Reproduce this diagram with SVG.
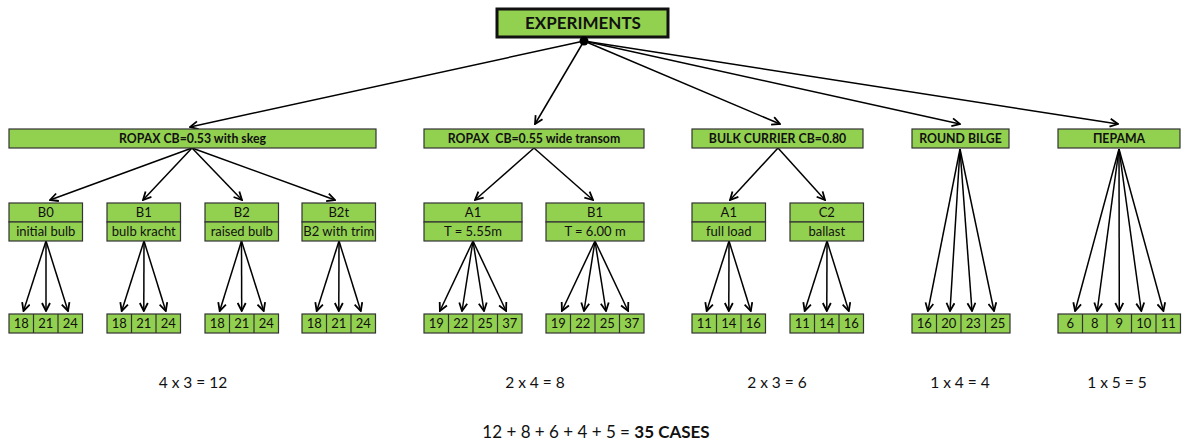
<svg xmlns="http://www.w3.org/2000/svg" width="1182" height="445" viewBox="0 0 1182 445">
<defs>
<marker id="ah" viewBox="0 0 10 10" refX="9" refY="5" markerWidth="10" markerHeight="10" markerUnits="userSpaceOnUse" orient="auto">
<path d="M1,1 L9,5 L1,9" fill="none" stroke="#000" stroke-width="1.8"/>
</marker>
<style>
.bx{fill:#92D050;stroke:#333;stroke-width:1.2}
.top{fill:#92D050;stroke:#111;stroke-width:3}
.c line{stroke:#000;stroke-width:1.5;marker-end:url(#ah)}
.t{font-family:Lato,"Open Sans",sans-serif;fill:#111;text-anchor:middle;white-space:pre}
.h{font-size:12.3px;font-weight:bold}
.n{font-size:13px}
.b{font-size:15.5px}
.cl{stroke:#333;stroke-width:1.2}
</style>
</defs>
<rect width="1182" height="445" fill="#fff"/>

<g id="connectors" class="c">
<line x1="584" y1="41" x2="190" y2="127"/>
<line x1="584" y1="41" x2="535" y2="124"/>
<line x1="584" y1="41" x2="780" y2="124"/>
<line x1="584" y1="41" x2="960" y2="124"/>
<line x1="584" y1="41" x2="1118" y2="124"/>
<line x1="192" y1="148" x2="50" y2="200"/>
<line x1="192" y1="148" x2="143" y2="200"/>
<line x1="192" y1="148" x2="242" y2="200"/>
<line x1="192" y1="148" x2="335" y2="200"/>
<line x1="534" y1="148" x2="475" y2="200"/>
<line x1="534" y1="148" x2="593" y2="200"/>
<line x1="778" y1="148" x2="730" y2="200"/>
<line x1="778" y1="148" x2="825" y2="200"/>
<line x1="46" y1="241" x2="23.5" y2="311"/>
<line x1="46" y1="241" x2="46" y2="311"/>
<line x1="46" y1="241" x2="68" y2="311"/>
<line x1="144" y1="241" x2="121.7" y2="311"/>
<line x1="144" y1="241" x2="143.8" y2="311"/>
<line x1="144" y1="241" x2="165.8" y2="311"/>
<line x1="241.5" y1="241" x2="219.7" y2="311"/>
<line x1="241.5" y1="241" x2="241.7" y2="311"/>
<line x1="241.5" y1="241" x2="263.7" y2="311"/>
<line x1="339" y1="241" x2="316.7" y2="311"/>
<line x1="339" y1="241" x2="338.8" y2="311"/>
<line x1="339" y1="241" x2="360.8" y2="311"/>
<line x1="473" y1="241" x2="439.9" y2="311"/>
<line x1="473" y1="241" x2="462" y2="311"/>
<line x1="473" y1="241" x2="484" y2="311"/>
<line x1="473" y1="241" x2="506.1" y2="311"/>
<line x1="595" y1="241" x2="561.9" y2="311"/>
<line x1="595" y1="241" x2="584" y2="311"/>
<line x1="595" y1="241" x2="606" y2="311"/>
<line x1="595" y1="241" x2="628.1" y2="311"/>
<line x1="729" y1="241" x2="706.7" y2="311"/>
<line x1="729" y1="241" x2="728.8" y2="311"/>
<line x1="729" y1="241" x2="750.8" y2="311"/>
<line x1="827" y1="241" x2="804.7" y2="311"/>
<line x1="827" y1="241" x2="826.8" y2="311"/>
<line x1="827" y1="241" x2="848.8" y2="311"/>
<line x1="960" y1="149" x2="927.9" y2="311"/>
<line x1="960" y1="149" x2="950" y2="311"/>
<line x1="960" y1="149" x2="972" y2="311"/>
<line x1="960" y1="149" x2="994" y2="311"/>
<line x1="1119" y1="149" x2="1075.1" y2="311"/>
<line x1="1119" y1="149" x2="1097.2" y2="311"/>
<line x1="1119" y1="149" x2="1119.3" y2="311"/>
<line x1="1119" y1="149" x2="1141.3" y2="311"/>
<line x1="1119" y1="149" x2="1163.4" y2="311"/>
</g>

<g id="experiments">
<rect class="top" x="497" y="9" width="171" height="28"/>
<text class="t" x="583" y="29" style="font-size:17px;font-weight:bold">EXPERIMENTS</text>
<circle cx="584" cy="41" r="4.5" fill="#000"/>
</g>

<g id="ropax053">
<rect class="bx" x="9" y="129" width="367" height="19"/>
<text class="t h" x="192.5" y="143">ROPAX CB=0.53 with skeg</text>
</g>
<g id="ropax055">
<rect class="bx" x="424" y="129" width="220" height="19"/>
<text class="t h" x="534" y="143" xml:space="preserve">ROPAX  CB=0.55 wide transom</text>
</g>
<g id="bulk">
<rect class="bx" x="692" y="129" width="171" height="19"/>
<text class="t h" x="777.5" y="143">BULK CURRIER CB=0.80</text>
</g>
<g id="roundbilge">
<rect class="bx" x="912" y="129" width="97" height="19"/>
<text class="t h" x="960.5" y="143">ROUND BILGE</text>
</g>
<g id="perama">
<rect class="bx" x="1058" y="129" width="122" height="19"/>
<text class="t h" x="1119" y="143">ΠΕΡΑΜΑ</text>
</g>

<g id="b0">
<rect class="bx" x="9" y="203" width="73.5" height="19"/>
<rect class="bx" x="9" y="222" width="73.5" height="19"/>
<text class="t n" x="45.75" y="217">B0</text>
<text class="t n" x="45.75" y="236">initial bulb</text>
</g>
<g id="b1">
<rect class="bx" x="107" y="203" width="73.5" height="19"/>
<rect class="bx" x="107" y="222" width="73.5" height="19"/>
<text class="t n" x="143.75" y="217">B1</text>
<text class="t n" x="143.75" y="236">bulb kracht</text>
</g>
<g id="b2">
<rect class="bx" x="205" y="203" width="73.5" height="19"/>
<rect class="bx" x="205" y="222" width="73.5" height="19"/>
<text class="t n" x="241.75" y="217">B2</text>
<text class="t n" x="241.75" y="236">raised bulb</text>
</g>
<g id="b2t">
<rect class="bx" x="302" y="203" width="73.5" height="19"/>
<rect class="bx" x="302" y="222" width="73.5" height="19"/>
<text class="t n" x="338.75" y="217">B2t</text>
<text class="t n" x="338.75" y="236">B2 with trim</text>
</g>
<g id="a1-ropax">
<rect class="bx" x="424" y="203" width="98" height="19"/>
<rect class="bx" x="424" y="222" width="98" height="19"/>
<text class="t n" x="473" y="217">A1</text>
<text class="t n" x="473" y="236">T = 5.55m</text>
</g>
<g id="b1-ropax">
<rect class="bx" x="546" y="203" width="98" height="19"/>
<rect class="bx" x="546" y="222" width="98" height="19"/>
<text class="t n" x="595" y="217">B1</text>
<text class="t n" x="595" y="236">T = 6.00 m</text>
</g>
<g id="a1-bulk">
<rect class="bx" x="692" y="203" width="73.5" height="19"/>
<rect class="bx" x="692" y="222" width="73.5" height="19"/>
<text class="t n" x="728.75" y="217">A1</text>
<text class="t n" x="728.75" y="236">full load</text>
</g>
<g id="c2-bulk">
<rect class="bx" x="790" y="203" width="73.5" height="19"/>
<rect class="bx" x="790" y="222" width="73.5" height="19"/>
<text class="t n" x="826.75" y="217">C2</text>
<text class="t n" x="826.75" y="236">ballast</text>
</g>

<g id="leaf-b0">
<rect class="bx" x="9" y="314" width="73.5" height="19"/>
<line class="cl" x1="33.5" y1="314" x2="33.5" y2="333"/><line class="cl" x1="58" y1="314" x2="58" y2="333"/>
<text class="t n" x="21.25" y="328">18</text><text class="t n" x="45.75" y="328">21</text><text class="t n" x="70.25" y="328">24</text>
</g>
<g id="leaf-b1">
<rect class="bx" x="107" y="314" width="73.5" height="19"/>
<line class="cl" x1="131.5" y1="314" x2="131.5" y2="333"/><line class="cl" x1="156" y1="314" x2="156" y2="333"/>
<text class="t n" x="119.25" y="328">18</text><text class="t n" x="143.75" y="328">21</text><text class="t n" x="168.25" y="328">24</text>
</g>
<g id="leaf-b2">
<rect class="bx" x="205" y="314" width="73.5" height="19"/>
<line class="cl" x1="229.5" y1="314" x2="229.5" y2="333"/><line class="cl" x1="254" y1="314" x2="254" y2="333"/>
<text class="t n" x="217.25" y="328">18</text><text class="t n" x="241.75" y="328">21</text><text class="t n" x="266.25" y="328">24</text>
</g>
<g id="leaf-b2t">
<rect class="bx" x="302" y="314" width="73.5" height="19"/>
<line class="cl" x1="326.5" y1="314" x2="326.5" y2="333"/><line class="cl" x1="351" y1="314" x2="351" y2="333"/>
<text class="t n" x="314.25" y="328">18</text><text class="t n" x="338.75" y="328">21</text><text class="t n" x="363.25" y="328">24</text>
</g>
<g id="leaf-a1-ropax">
<rect class="bx" x="424" y="314" width="98" height="19"/>
<line class="cl" x1="448.5" y1="314" x2="448.5" y2="333"/><line class="cl" x1="473" y1="314" x2="473" y2="333"/><line class="cl" x1="497.5" y1="314" x2="497.5" y2="333"/>
<text class="t n" x="436.25" y="328">19</text><text class="t n" x="460.75" y="328">22</text><text class="t n" x="485.25" y="328">25</text><text class="t n" x="509.75" y="328">37</text>
</g>
<g id="leaf-b1-ropax">
<rect class="bx" x="546" y="314" width="98" height="19"/>
<line class="cl" x1="570.5" y1="314" x2="570.5" y2="333"/><line class="cl" x1="595" y1="314" x2="595" y2="333"/><line class="cl" x1="619.5" y1="314" x2="619.5" y2="333"/>
<text class="t n" x="558.25" y="328">19</text><text class="t n" x="582.75" y="328">22</text><text class="t n" x="607.25" y="328">25</text><text class="t n" x="631.75" y="328">37</text>
</g>
<g id="leaf-a1-bulk">
<rect class="bx" x="692" y="314" width="73.5" height="19"/>
<line class="cl" x1="716.5" y1="314" x2="716.5" y2="333"/><line class="cl" x1="741" y1="314" x2="741" y2="333"/>
<text class="t n" x="704.25" y="328">11</text><text class="t n" x="728.75" y="328">14</text><text class="t n" x="753.25" y="328">16</text>
</g>
<g id="leaf-c2-bulk">
<rect class="bx" x="790" y="314" width="73.5" height="19"/>
<line class="cl" x1="814.5" y1="314" x2="814.5" y2="333"/><line class="cl" x1="839" y1="314" x2="839" y2="333"/>
<text class="t n" x="802.25" y="328">11</text><text class="t n" x="826.75" y="328">14</text><text class="t n" x="851.25" y="328">16</text>
</g>
<g id="leaf-roundbilge">
<rect class="bx" x="912" y="314" width="98" height="19"/>
<line class="cl" x1="936.5" y1="314" x2="936.5" y2="333"/><line class="cl" x1="961" y1="314" x2="961" y2="333"/><line class="cl" x1="985.5" y1="314" x2="985.5" y2="333"/>
<text class="t n" x="924.25" y="328">16</text><text class="t n" x="948.75" y="328">20</text><text class="t n" x="973.25" y="328">23</text><text class="t n" x="997.75" y="328">25</text>
</g>
<g id="leaf-perama">
<rect class="bx" x="1058" y="314" width="122.5" height="19"/>
<line class="cl" x1="1082.5" y1="314" x2="1082.5" y2="333"/><line class="cl" x1="1107" y1="314" x2="1107" y2="333"/><line class="cl" x1="1131.5" y1="314" x2="1131.5" y2="333"/><line class="cl" x1="1156" y1="314" x2="1156" y2="333"/>
<text class="t n" x="1070.25" y="328">6</text><text class="t n" x="1094.75" y="328">8</text><text class="t n" x="1119.25" y="328">9</text><text class="t n" x="1143.75" y="328">10</text><text class="t n" x="1168.25" y="328">11</text>
</g>

<g id="totals">
<text class="t b" x="193" y="388">4 x 3 = 12</text>
<text class="t b" x="535" y="388">2 x 4 = 8</text>
<text class="t b" x="777" y="388">2 x 3 = 6</text>
<text class="t b" x="960" y="388">1 x 4 = 4</text>
<text class="t b" x="1117" y="388">1 x 5 = 5</text>
<text class="t" x="596" y="438" style="font-size:17px">12 + 8 + 6 + 4 + 5 = <tspan font-weight="bold">35 CASES</tspan></text>
</g>
</svg>
